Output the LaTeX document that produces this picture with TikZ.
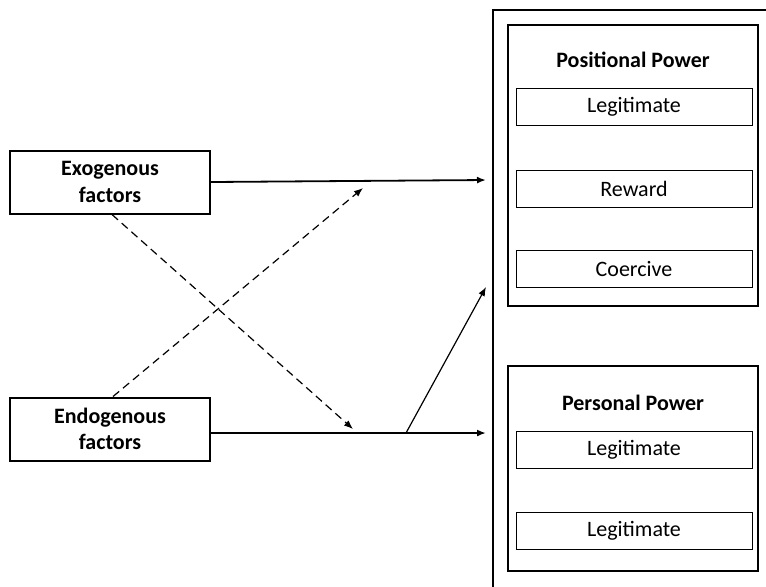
\documentclass[tikz,border=0pt]{standalone}
\usepackage{fontspec}
\setmainfont{Carlito}
\usetikzlibrary{arrows.meta}

\tikzset{
  factorbox/.style={draw, line width=1pt, inner sep=0pt, minimum width=100pt, minimum height=31.5pt,
    align=center, font=\fontsize{11}{13.2}\selectfont\bfseries},
  powerbox/.style={draw, line width=1pt, inner sep=0pt, minimum width=125pt},
  itembox/.style={draw, line width=0.5pt, inner sep=0pt, minimum width=118pt, minimum height=18.5pt,
    font=\fontsize{11}{13.2}\selectfont},
  powertitle/.style={font=\fontsize{11}{13.2}\selectfont\bfseries},
  link/.style={-{Latex[length=4.5pt,width=3.5pt]}, line width=0.9pt},
  thinlink/.style={-{Latex[length=4.5pt,width=3.5pt]}, line width=0.6pt},
  crosslink/.style={-{Latex[length=4.5pt,width=3.5pt]}, line width=0.6pt, dash pattern=on 4pt off 2.5pt}
}

\begin{document}
\begin{tikzpicture}[x=0.5pt,y=-0.5pt]
  \useasboundingbox (0,0) rectangle (766,586);
  \clip (0,0) rectangle (766,586);
  % frame round both kinds of power, it runs off the page
  \draw[line width=1pt] (493,600) -- (493,10) -- (780,10);

  % the two kinds of factors
  \node[factorbox] (exo)  at (110,182) {Exogenous\\factors};
  \node[factorbox] (endo) at (110,429) {Endogenous\\factors};

  % positional power
  \node[powerbox, minimum height=140.5pt] (positional) at (633,165.5) {};
  \node[powertitle] (postitle) at (633,60) {Positional Power};
  \node[itembox] (poslegit)  at (634,107)   {Legitimate};
  \node[itembox] (reward)    at (634,188.5) {Reward};
  \node[itembox] (coercive)  at (634,268.5) {Coercive};

  % personal power
  \node[powerbox, minimum height=102.5pt] (personal) at (633,468.5) {};
  \node[powertitle] (pertitle) at (633,403) {Personal Power};
  \node[itembox] (perlegit)  at (634,449.5) {Legitimate};
  \node[itembox] (perlegitb) at (634,530.5) {Legitimate};

  % arrow ends
  \coordinate (exotip)  at (486,180);
  \coordinate (endotip) at (486,433);
  \coordinate (split)   at (406,433);
  \coordinate (uptip)   at (486,287);
  \coordinate (crossa)  at (353,429);
  \coordinate (crossb)  at (363,188);

  \draw[link] (exo.east) -- (exotip);
  \draw[link] (endo.east |- endotip) -- (endotip);
  \draw[thinlink] (split) -- (uptip);
  \draw[crosslink] ([xshift=1pt]exo.south) -- (crossa);
  \draw[crosslink] ([xshift=1.5pt]endo.north) -- (crossb);
\end{tikzpicture}
\end{document}
